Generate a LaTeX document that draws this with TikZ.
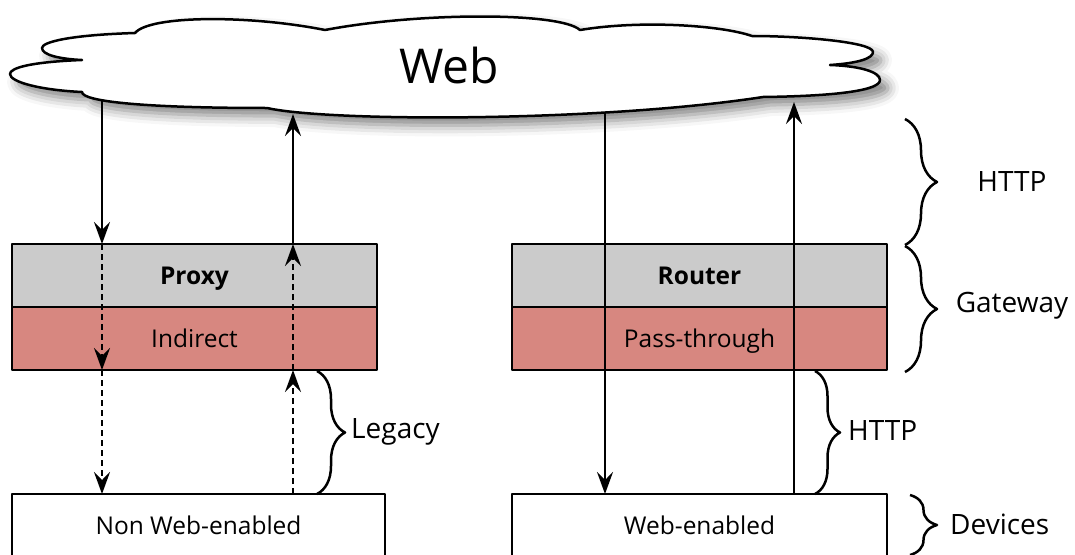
\documentclass[tikz,border=0pt]{standalone}
\usepackage{fontspec}
\setmainfont{Open Sans}
\usetikzlibrary{arrows.meta,decorations.pathreplacing,shadows.blur}
\definecolor{gwgray}{RGB}{203,203,203}
\definecolor{gwred}{RGB}{215,135,128}
\tikzset{
  gwtop/.style={draw, line width=2.5pt, fill=gwgray, minimum height=63pt, inner sep=0pt, outer sep=0pt,
    text height=20pt, text depth=2.5pt, font=\fontsize{24.5}{30}\selectfont\bfseries},
  gwbot/.style={draw, line width=2.5pt, fill=gwred, minimum height=63pt, inner sep=0pt, outer sep=0pt,
    text height=20pt, text depth=2.5pt, font=\fontsize{24.5}{30}\selectfont},
  devbox/.style={draw, line width=2.5pt, fill=white, minimum height=64pt, inner sep=0pt, outer sep=0pt,
    text height=20pt, text depth=2.5pt, font=\fontsize{24.5}{30}\selectfont},
  arr/.style={line width=2pt, -{Stealth[length=22pt, width=16pt, inset=8pt]}},
  dasharr/.style={arr, dash pattern=on 6pt off 4pt},
  brace/.style={line width=2.5pt, decorate, decoration={brace, amplitude=#1}},
  lbl/.style={font=\fontsize{28}{34}\selectfont, inner sep=0pt}
}
\begin{document}
\begin{tikzpicture}[x=1pt, y=-1pt, line join=round]
  \useasboundingbox (0,0) rectangle (1075,554);
  % --- ゲートウェイ(上段) ---
  \node[gwtop, minimum width=365pt, anchor=north west] (proxy) at (12,244) {Proxy};
  \node[gwbot, minimum width=365pt, anchor=north] (indirect) at (proxy.south) {Indirect};
  \node[gwtop, minimum width=375pt, anchor=north west] (router) at (512,244) {Router};
  \node[gwbot, minimum width=375pt, anchor=north] (pass) at (router.south) {Pass-through};
  % --- デバイス(下段) ---
  \node[devbox, minimum width=373pt, anchor=north west] (nonweb) at (12,494) {Non Web-enabled};
  \node[devbox, minimum width=375pt, anchor=north west] (webdev) at (512,494) {Web-enabled};
  % 雲の下の端点
  \coordinate (wa) at (102,100);
  \coordinate (wb) at (293,114);
  \coordinate (wc) at (605,112);
  \coordinate (wd) at (794,102);
  % --- 左:Proxy 経由 ---
  \draw[arr] (wa) -- (wa |- proxy.north);
  \draw[dasharr] (wa |- proxy.north) -- (wa |- indirect.south);
  \draw[dasharr] (wa |- indirect.south) -- (wa |- nonweb.north);
  \draw[dasharr] (wb |- nonweb.north) -- (wb |- indirect.south);
  \draw[dasharr] (wb |- indirect.south) -- (wb |- proxy.north);
  \draw[arr] (wb |- proxy.north) -- (wb);
  % --- 右:Router 通過 ---
  \draw[arr] (wc) -- (wc |- webdev.north);
  \draw[arr] (wd |- webdev.north) -- (wd);
  % --- 雲 (Web) ---
  \path[draw, line width=2.5pt, fill=white,
    blur shadow={shadow xshift=8pt, shadow yshift=-8pt, shadow blur radius=11pt, shadow opacity=50}]
    (135,33) .. controls (70,35) and (42,42) .. (42,48)
    .. controls (42,55) and (60,59) .. (82,60)
    .. controls (30,62) and (10,68) .. (10,74)
    .. controls (10,82) and (40,90) .. (82,92)
    .. controls (82,102) and (150,108) .. (267,108)
    .. controls (330,122) and (600,122) .. (763,97)
    .. controls (840,96) and (880,90) .. (880,80)
    .. controls (880,72) and (860,66) .. (830,65)
    .. controls (860,63) and (873,58) .. (873,52)
    .. controls (873,42) and (800,36) .. (752,36)
    .. controls (720,25) and (640,20) .. (580,30)
    .. controls (560,12) and (420,12) .. (325,30)
    .. controls (250,15) and (150,15) .. (135,33) -- cycle;
  \node[font=\fontsize{48}{56}\selectfont] (web) at (449,65) {Web};
  % --- 括弧とラベル ---
  \draw[brace=32pt] (905,119) -- (905,245);
  \node[lbl] (httptop) at (1012,182) {HTTP};
  \draw[brace=32pt] (905,246) -- (905,372);
  \node[lbl] (gateway) at (1012,306) {Gateway};
  \draw[brace=27pt] (910,495) -- (910,555);
  \node[lbl, anchor=west] (devices) at (950,524) {Devices};
  \draw[brace=28pt] (317,371) -- (317,494);
  \node[lbl, anchor=west] (legacy) at (351,432) {Legacy};
  \draw[brace=25pt] (815,371) -- (815,494);
  \node[lbl, anchor=west] (httpmid) at (848,430) {HTTP};
\end{tikzpicture}
\end{document}
